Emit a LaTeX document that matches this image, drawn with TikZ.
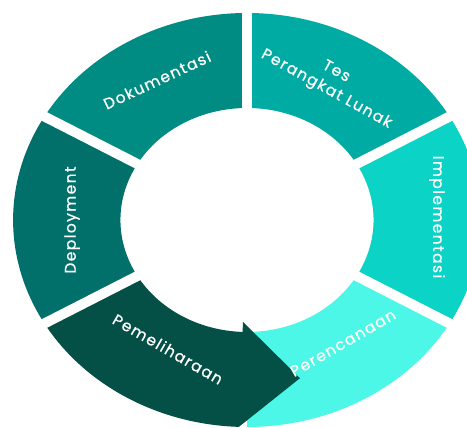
\documentclass[tikz,border=0pt]{standalone}
\usepackage{fontspec}
\setmainfont{Poppins}[LetterSpace=9, FakeBold=0.6]
\definecolor{cdok}{HTML}{008C82}
\definecolor{ctes}{HTML}{00ABA3}
\definecolor{cimp}{HTML}{0BD3C6}
\definecolor{cper}{HTML}{4CF7E8}
\definecolor{cpem}{HTML}{044F46}
\definecolor{cdep}{HTML}{01706A}
\tikzset{
  lbl/.style={text=white, font=\fontsize{15.5}{20}\selectfont, inner sep=0pt, align=center},
  gapline/.style={white, line width=10pt}
}
\begin{document}
\begin{tikzpicture}[x=1pt,y=1pt]
\useasboundingbox[fill=white] (0,0) rectangle (467,428);
\begin{scope}[shift={(247,208)}, xscale=1.13]
  \fill[cdok] (90:112) arc[start angle=90,end angle=150,radius=112] -- (150:207) arc[start angle=150,end angle=90,radius=207] -- cycle;
  \fill[ctes] (30:112) arc[start angle=30,end angle=90,radius=112] -- (90:207) arc[start angle=90,end angle=30,radius=207] -- cycle;
  \fill[cimp] (-30:112) arc[start angle=-30,end angle=30,radius=112] -- (30:207) arc[start angle=30,end angle=-30,radius=207] -- cycle;
  \fill[cper] (-90:112) arc[start angle=-90,end angle=-30,radius=112] -- (-30:207) arc[start angle=-30,end angle=-90,radius=207] -- cycle;
  \fill[cdep] (150:112) arc[start angle=150,end angle=210,radius=112] -- (210:207) arc[start angle=210,end angle=150,radius=207] -- cycle;
  \fill[cpem] (210:112) arc[start angle=210,end angle=268,radius=112] -- (268:102) -- (286.5:165) -- (268:207) arc[start angle=268,end angle=210,radius=207] -- cycle;
  \foreach \a in {90,30,-30,150,210} \draw[gapline] (\a:98) -- (\a:220);
\end{scope}
\node[lbl, rotate=25] (dok) at (157,348) {Dokumentasi};
\node[lbl, rotate=-29] (tes) at (331,347) {Tes\\Perangkat Lunak};
\node[lbl, rotate=-90] (imp) at (437,211) {Implementasi};
\node[lbl, rotate=90] (dep) at (72,208) {Deployment};
\node[lbl, rotate=30] (per) at (343,85) {Perencanaan};
\node[lbl, rotate=-30] (pem) at (168,79) {Pemeliharaan};
\end{tikzpicture}
\end{document}
